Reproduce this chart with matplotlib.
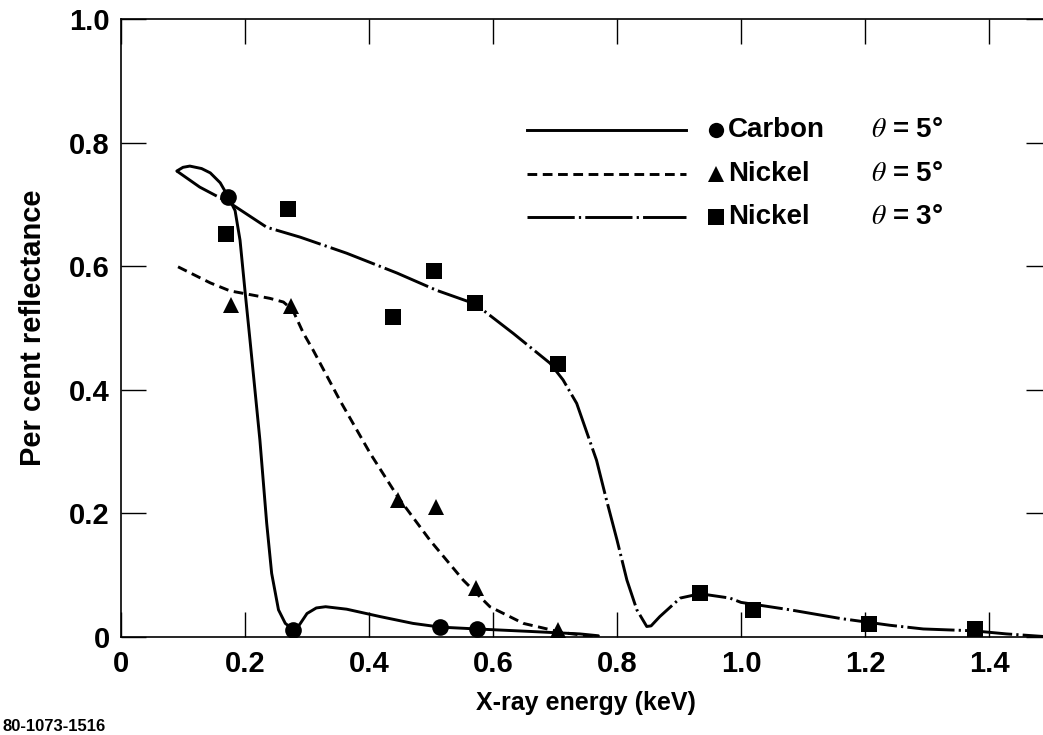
import matplotlib
matplotlib.use("Agg")
import matplotlib.pyplot as plt
from matplotlib.lines import Line2D

plt.rcParams['lines.scale_dashes'] = False
plt.rcParams['mathtext.fontset'] = 'stix'

# ---------------- data ----------------
carbon_curve_x = [0.090, 0.100, 0.111, 0.130, 0.144, 0.160, 0.172, 0.184, 0.192, 0.200,
                  0.208, 0.216, 0.224, 0.235, 0.243, 0.254, 0.265, 0.278, 0.288, 0.300,
                  0.315, 0.330, 0.364, 0.418, 0.471, 0.515, 0.574, 0.660, 0.740, 0.770]
carbon_curve_y = [0.754, 0.760, 0.762, 0.758, 0.751, 0.735, 0.714, 0.690, 0.642, 0.560,
                  0.481, 0.400, 0.319, 0.184, 0.103, 0.044, 0.022, 0.012, 0.020, 0.038,
                  0.047, 0.049, 0.045, 0.033, 0.022, 0.016, 0.013, 0.009, 0.005, 0.002]

ni5_curve_x = [0.092, 0.144, 0.176, 0.203, 0.240, 0.262, 0.277, 0.294, 0.310, 0.353,
               0.402, 0.447, 0.498, 0.552, 0.595, 0.649, 0.713, 0.767]
ni5_curve_y = [0.599, 0.573, 0.560, 0.555, 0.548, 0.542, 0.529, 0.492, 0.464, 0.383,
               0.297, 0.226, 0.157, 0.092, 0.049, 0.022, 0.007, 0.000]

ni3_curve_x = [0.090, 0.127, 0.176, 0.235, 0.289, 0.364, 0.445, 0.509, 0.571, 0.633,
               0.692, 0.713, 0.735, 0.767, 0.783, 0.800, 0.816, 0.832, 0.848, 0.855,
               0.869, 0.902, 0.934, 0.982, 1.000, 1.079, 1.160, 1.240, 1.294, 1.375,
               1.428, 1.500]
ni3_curve_y = [0.754, 0.728, 0.702, 0.663, 0.647, 0.621, 0.589, 0.561, 0.539, 0.491,
               0.443, 0.416, 0.378, 0.286, 0.222, 0.157, 0.092, 0.044, 0.017, 0.018,
               0.033, 0.063, 0.070, 0.063, 0.056, 0.044, 0.030, 0.019, 0.013, 0.010,
               0.005, 0.000]

carbon_pts_x = [0.172, 0.278, 0.515, 0.574]
carbon_pts_y = [0.712, 0.012, 0.016, 0.013]

ni5_pts_x = [0.177, 0.274, 0.447, 0.508, 0.573, 0.705]
ni5_pts_y = [0.537, 0.535, 0.222, 0.211, 0.080, 0.012]

ni3_pts_x = [0.169, 0.269, 0.438, 0.505, 0.571, 0.705, 0.934, 1.019, 1.206, 1.378]
ni3_pts_y = [0.652, 0.693, 0.518, 0.592, 0.540, 0.442, 0.072, 0.044, 0.021, 0.013]

x_ticks = [0, 0.2, 0.4, 0.6, 0.8, 1.0, 1.2, 1.4]
x_tick_labels = ['0', '0.2', '0.4', '0.6', '0.8', '1.0', '1.2', '1.4']
y_ticks = [0, 0.2, 0.4, 0.6, 0.8, 1.0]
y_tick_labels = ['0', '0.2', '0.4', '0.6', '0.8', '1.0']

legend_names = ['Carbon', 'Nickel', 'Nickel']
legend_angles = [r'$\theta$ = 5°', r'$\theta$ = 5°', r'$\theta$ = 3°']

# ---------------- styles ----------------
DASHED = (0, (7.0, 4.0))
DASHDOT = (0, (34.0, 3.0, 1.6, 3.0))
LW = 2.1
BOLD = ['Liberation Sans', 'DejaVu Sans']

fig = plt.figure(figsize=(10.43, 7.35), dpi=100)
W, H = 1043.0, 735.0
ax = fig.add_axes([121 / W, (H - 637) / H, (1051 - 121) / W, (637 - 19) / H])

ax.plot(carbon_curve_x, carbon_curve_y, color='black', lw=LW, linestyle='-',
        solid_capstyle='round', solid_joinstyle='round')
ax.plot(ni5_curve_x, ni5_curve_y, color='black', lw=LW, linestyle=DASHED)
ax.plot(ni3_curve_x, ni3_curve_y, color='black', lw=LW, linestyle=DASHDOT)

ax.plot(carbon_pts_x, carbon_pts_y, 'o', color='black', ms=12, mew=0)
ax.plot(ni5_pts_x, ni5_pts_y, '^', color='black', ms=12, mew=0)
ax.plot(ni3_pts_x, ni3_pts_y, 's', color='black', ms=11, mew=0)

ax.set_xlim(0, 1.5)
ax.set_ylim(0, 1.0)
ax.set_xticks(x_ticks)
ax.set_xticklabels(x_tick_labels)
ax.set_yticks(y_ticks)
ax.set_yticklabels(y_tick_labels)
ax.tick_params(direction='in', length=18, width=1.0, top=True, right=True,
               labelsize=21, pad=8)
ax.tick_params(axis='x', pad=9)
for lab in ax.get_xticklabels() + ax.get_yticklabels():
    lab.set_fontfamily(BOLD)
    lab.set_fontweight('bold')
for sp in ax.spines.values():
    sp.set_linewidth(1.2)

ax.set_xlabel('X-ray energy (keV)', fontsize=18, fontweight='bold',
              family=BOLD, labelpad=10)
ax.set_ylabel('Per cent reflectance', fontsize=21, fontweight='bold',
              family=BOLD, labelpad=16)

# ---------------- legend (hand-made to match the original layout) ----------------
rows_y = [0.820, 0.749, 0.680]
styles = ['-', DASHED, DASHDOT]
markers = ['o', '^', 's']
for yy, st, mk, name, ang in zip(rows_y, styles, markers, legend_names, legend_angles):
    ax.add_line(Line2D([0.4366, 0.6075], [yy, yy], transform=ax.transAxes,
                       color='black', lw=LW, linestyle=st))
    ax.add_line(Line2D([0.640], [yy], transform=ax.transAxes, marker=mk,
                       color='black', ms=11, mew=0, linestyle='none'))
    ax.text(0.653, yy, name, transform=ax.transAxes, fontsize=20,
            fontweight='bold', family=BOLD, va='center', ha='left')
    ax.text(0.806, yy, ang, transform=ax.transAxes, fontsize=20,
            fontweight='bold', family=BOLD, va='center', ha='left')

fig.text(0.002, 0.002, '80-1073-1516', fontsize=12, fontweight='bold',
         family=BOLD, va='bottom', ha='left')

fig.savefig('out.png', dpi=100, facecolor='white')
